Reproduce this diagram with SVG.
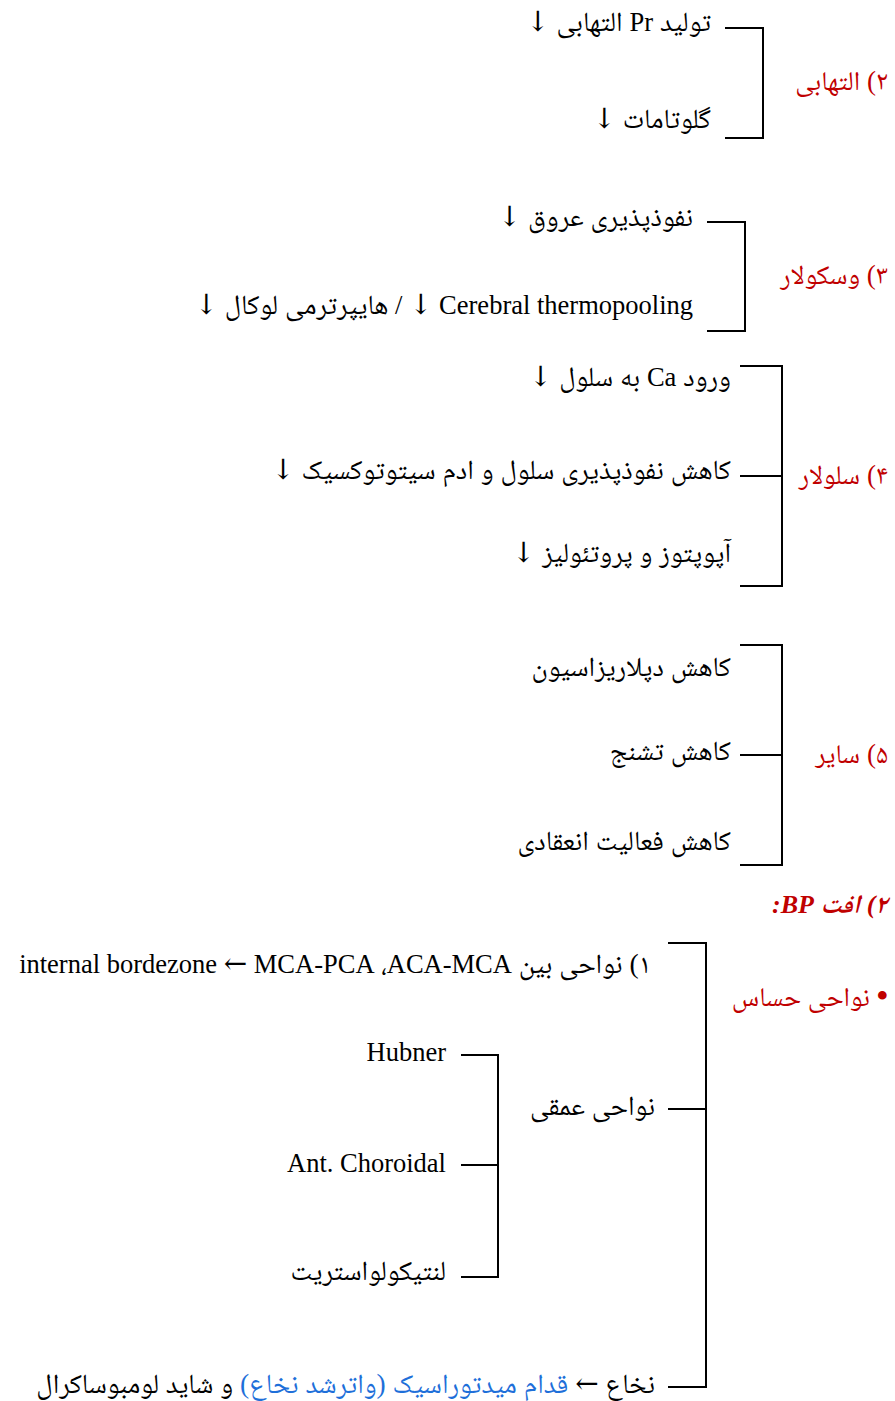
<svg xmlns="http://www.w3.org/2000/svg" width="895" height="1401" viewBox="0 0 895 1401">
  <style>
    text { font-family: "Liberation Serif", "Noto Naskh Arabic", "DejaVu Sans", serif; font-size: 26px; fill: #000; }
    .rtl { direction: rtl; unicode-bidi: embed; text-anchor: start; }
    .fa { font-size: 27.5px; }
    .lat { font-size: 26.5px; }
    .ar { font-family: "DejaVu Serif", serif; font-size: 28px; }
    .head { fill: #c00000; font-size: 27px; }
    .bul { font-size: 32px; font-weight: bold; }
    .title { fill: #c00000; font-size: 26px; font-weight: bold; font-style: italic; }
    .blue { fill: #1e6fd9; }
    .br { fill: none; stroke: #000; stroke-width: 2; }
  </style>

  <!-- bracket connectors -->
  <g id="connectors">
    <polyline class="br" points="725,28 763,28 763,138 725,138"/>
    <polyline class="br" points="707,222 745,222 745,331 707,331"/>
    <polyline class="br" points="740,366 782,366 782,586 740,586"/>
    <line class="br" x1="740" y1="476" x2="782" y2="476"/>
    <polyline class="br" points="740,645 782,645 782,865 740,865"/>
    <line class="br" x1="740" y1="755" x2="782" y2="755"/>
    <polyline class="br" points="668,943 706,943 706,1387 668,1387"/>
    <line class="br" x1="668" y1="1109" x2="706" y2="1109"/>
    <polyline class="br" points="461,1055 498,1055 498,1277 461,1277"/>
    <line class="br" x1="461" y1="1165" x2="498" y2="1165"/>
  </g>

  <!-- 2) inflammatory -->
  <g id="inflammatory">
    <text class="rtl head" x="888" y="90">٢) التهابی</text>
    <text class="rtl fa" x="711" y="31">تولید <tspan class="lat">Pr</tspan> التهابی <tspan class="ar">↓</tspan></text>
    <text class="rtl fa" x="711" y="128">گلوتامات <tspan class="ar">↓</tspan></text>
  </g>

  <!-- 3) vascular -->
  <g id="vascular">
    <text class="rtl head" x="888" y="284">٣) وسکولار</text>
    <text class="rtl fa" x="693" y="226">نفوذپذیری عروق <tspan class="ar">↓</tspan></text>
    <text class="rtl fa" x="693" y="314"><tspan class="lat">Cerebral thermopooling </tspan><tspan class="ar">↓</tspan><tspan class="lat"> / </tspan>هایپرترمی لوکال <tspan class="ar">↓</tspan></text>
  </g>

  <!-- 4) cellular -->
  <g id="cellular">
    <text class="rtl head" x="888" y="484">۴) سلولار</text>
    <text class="rtl fa" x="731" y="386">ورود <tspan class="lat">Ca</tspan> به سلول <tspan class="ar">↓</tspan></text>
    <text class="rtl fa" x="731" y="479">کاهش نفوذپذیری سلول و ادم سیتوتوکسیک <tspan class="ar">↓</tspan></text>
    <text class="rtl fa" x="731" y="562">آپوپتوز و پروتئولیز <tspan class="ar">↓</tspan></text>
  </g>

  <!-- 5) other -->
  <g id="other">
    <text class="rtl head" x="888" y="763">۵) سایر</text>
    <text class="rtl fa" x="731" y="676">کاهش دپلاریزاسیون</text>
    <text class="rtl fa" x="731" y="760">کاهش تشنج</text>
    <text class="rtl fa" x="731" y="850">کاهش فعالیت انعقادی</text>
  </g>

  <!-- BP drop heading -->
  <g id="bp-title">
    <text class="rtl title" x="888" y="913">٢) افت BP:</text>
  </g>

  <!-- sensitive areas -->
  <g id="sensitive">
    <text class="rtl head" x="888" y="1006"><tspan class="bul">•</tspan> نواحی حساس</text>
    <text class="rtl fa" x="651" y="973">١) نواحی بین <tspan class="lat">ACA-MCA&#x200F;، &#x200F;MCA-PCA&#x200F; </tspan><tspan class="ar">←</tspan><tspan class="lat"> &#x200F;internal bordezone</tspan></text>
  </g>

  <g id="deep">
    <text class="rtl fa" x="655" y="1115">نواحی عمقی</text>
  </g>

  <g id="hubner"><text class="lat" x="446" y="1061" text-anchor="end">Hubner</text></g>
  <g id="choroidal"><text class="lat" x="446" y="1172" text-anchor="end">Ant. Choroidal</text></g>
  <g id="lenticulostriate"><text class="rtl fa" x="446" y="1280">لنتیکولواستریت</text></g>

  <g id="spinal">
    <text class="rtl fa" x="655" y="1393">نخاع <tspan class="ar">←</tspan> <tspan class="blue">قدام میدتوراسیک (واترشد نخاع)</tspan> و شاید لومبوساکرال</text>
  </g>
</svg>
